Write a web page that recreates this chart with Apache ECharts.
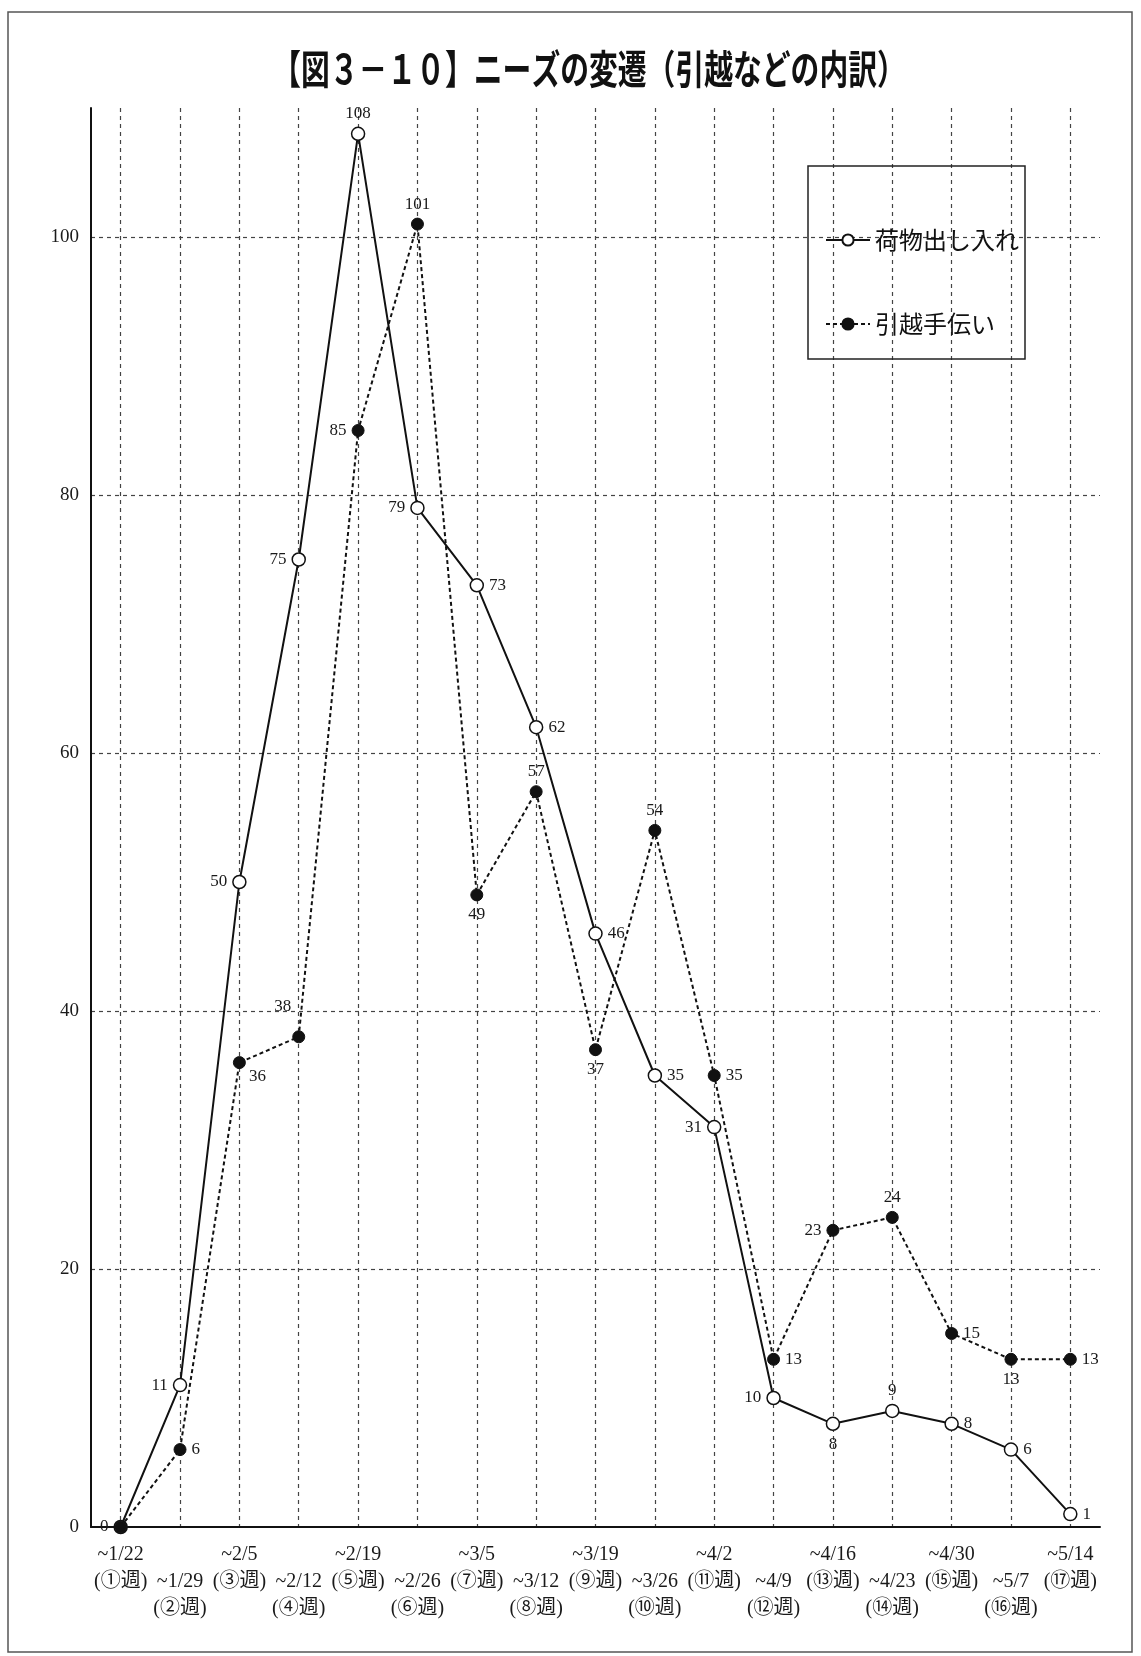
<!DOCTYPE html>
<html>
<head>
<meta charset="utf-8">
<script src="https://cdn.jsdelivr.net/npm/echarts@6/dist/echarts.min.js"></script>
<style>html,body{margin:0;padding:0;background:#fff}#c{width:1141px;height:1656px}</style>
</head>
<body>
<div id="c"></div>
<script>
const dates = ['~1/22','~1/29','~2/5','~2/12','~2/19','~2/26','~3/5','~3/12','~3/19','~3/26','~4/2','~4/9','~4/16','~4/23','~4/30','~5/7','~5/14'];
const weeks = ['(①週)','(②週)','(③週)','(④週)','(⑤週)','(⑥週)','(⑦週)','(⑧週)','(⑨週)','(⑩週)','(⑪週)','(⑫週)','(⑬週)','(⑭週)','(⑮週)','(⑯週)','(⑰週)'];
const nimotsu = [0,11,50,75,108,79,73,62,46,35,31,10,8,9,8,6,1];
const hikkoshi = [0,6,36,38,85,101,49,57,37,54,35,13,23,24,15,13,13];
const seriesNames = ['荷物出し入れ','引越手伝い'];
const yTicks = [0,20,40,60,80,100];

// label placement for each point (style, not data)
const place1 = ['left','left','left','left','top','left','right','right','right','right','left','left','bottom','top','right','right','right'];
const place2 = [null,'right','br','tl','left','top','bottom','top','bottom','top','right','right','left','top','right','bottom','right'];

const labelFont = {fontFamily:'Liberation Serif, Noto Sans CJK JP', fontSize:17, color:'#1a1a1a'};

function build(values, places){
  return values.map((v,i)=>{
    const p = places[i];
    if (p === null) return {value:v, label:{show:false}};
    if (p === 'br') return {value:v, label:{show:true, position:'right', offset:[-2,14]}};
    if (p === 'tl') return {value:v, label:{show:true, position:'top', offset:[-16,-10]}};
    return {value:v, label:{show:true, position:p, distance:5}};
  });
}

const chart = echarts.init(document.getElementById('c'), null, {renderer:'canvas'});
chart.setOption({
  backgroundColor:'#fff',
  animation:false,
  grid:{left:91, right:41, top:108, bottom:129},
  graphic:[
    {type:'rect', shape:{x:8,y:12,width:1124,height:1640}, style:{fill:'none', stroke:'#555', lineWidth:1.5}, silent:true},
    {type:'text', x:589, y:69, scaleX:0.72, style:{text:'【図３－１０】ニーズの変遷（引越などの内訳）', align:'center', verticalAlign:'middle', font:'bold 40px "Noto Sans CJK JP"', fill:'#111'}},
    {type:'rect', shape:{x:808,y:166,width:217,height:193}, style:{fill:'none', stroke:'#222', lineWidth:1.5}, z:5, silent:true}
  ],
  legend:{
    data:seriesNames, orient:'vertical', left:820, top:220,
    itemWidth:44, itemHeight:14, itemGap:54,
    textStyle:{fontFamily:'Noto Sans CJK JP', fontSize:24, lineHeight:30, color:'#111'}
  },
  xAxis:{
    type:'category', data:dates, boundaryGap:true,
    axisLine:{show:true, lineStyle:{color:'#111', width:2}},
    axisTick:{show:false},
    axisLabel:{interval:0, margin:14, fontFamily:'Liberation Serif, Noto Sans CJK JP', fontSize:20, lineHeight:27, color:'#1a1a1a',
      formatter:(val, idx)=> (idx % 2 === 0 ? '' : '\n') + dates[idx] + '\n' + weeks[idx]},
    splitLine:{show:true, alignWithLabel:true, interval:0, lineStyle:{color:'#444', type:[4,4], width:1.2}}
  },
  yAxis:{
    type:'value', min:0, max:110, interval:20,
    axisLine:{show:true, lineStyle:{color:'#111', width:2}},
    axisTick:{show:false},
    axisLabel:{margin:12, showMaxLabel:false, fontFamily:'Liberation Serif', fontSize:19, color:'#1a1a1a',
      formatter:(v)=> yTicks.indexOf(v) >= 0 ? String(v) : ''},
    splitLine:{show:true, showMinLine:false, showMaxLine:false, lineStyle:{color:'#444', type:[4,4], width:1.2}}
  },
  series:[
    {
      name:seriesNames[0], type:'line', data:build(nimotsu, place1),
      symbol:'circle', symbolSize:13,
      lineStyle:{color:'#111', width:2},
      itemStyle:{color:'#fff', borderColor:'#111', borderWidth:1.5},
      label:{...labelFont},
      z:3
    },
    {
      name:seriesNames[1], type:'line', data:build(hikkoshi, place2),
      symbol:'circle', symbolSize:12,
      lineStyle:{color:'#111', width:2, type:[4,3]},
      itemStyle:{color:'#111', borderColor:'#111', borderWidth:1},
      label:{...labelFont},
      z:4
    }
  ]
});
</script>
</body>
</html>
